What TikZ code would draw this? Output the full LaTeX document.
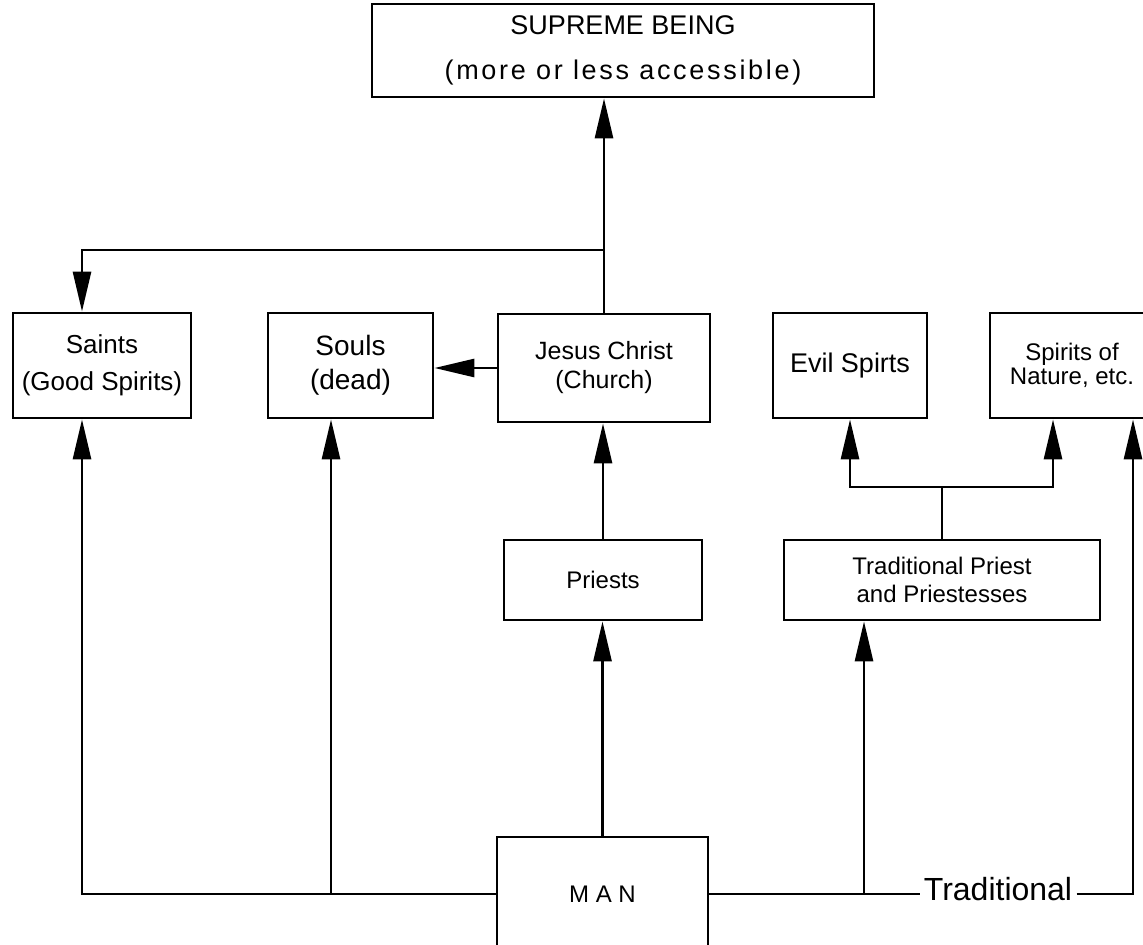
\documentclass[tikz,border=0pt]{standalone}
\usepackage{fontspec}
\setmainfont{Liberation Sans}
\usetikzlibrary{arrows.meta}

\begin{document}
\begin{tikzpicture}[x=0.5pt,y=-0.5pt,
    box/.style={draw,line width=1.4pt,align=center,inner sep=0pt},
    link/.style={line width=1.4pt},
    arr/.style={link,-{Triangle[length=20pt,width=9pt]}}]
        \useasboundingbox (0,0) rectangle (1143,945);

        \node[box,minimum width=251pt,minimum height=46.5pt,font=\fontsize{13.5}{22.5}\selectfont] (supreme) at (623,50.5) {SUPREME BEING\\{\addfontfeature{LetterSpace=10}(more or less accessible)}};
        \node[box,minimum width=89pt,minimum height=52.5pt,font=\fontsize{13}{18.5}\selectfont] (saints) at (102,365.5) {Saints\\(Good Spirits)};
        \node[box,minimum width=82.5pt,minimum height=52.5pt,font=\fontsize{14}{17}\selectfont] (souls) at (350.5,365.5) {Souls\\(dead)};
        \node[box,minimum width=106pt,minimum height=54pt,font=\fontsize{12.5}{14.5}\selectfont] (jesus) at (604,368) {Jesus Christ\\(Church)};
        \node[box,minimum width=77pt,minimum height=52.5pt,font=\fontsize{13.5}{16}\selectfont] (evil) at (850,365.5) {Evil Spirts};
        \node[box,minimum width=82pt,minimum height=52.5pt,font=\fontsize{12}{10}\selectfont] (nature) at (1072,365.5) {Spirits of\\Nature, etc.};
        \node[box,minimum width=99pt,minimum height=40pt,font=\fontsize{12}{14}\selectfont] (priests) at (603,580) {Priests};
        \node[box,minimum width=158pt,minimum height=40pt,font=\fontsize{12}{14}\selectfont] (tradpriest) at (942,580) {Traditional Priest\\and Priestesses};
        \node[box,minimum width=105.5pt,minimum height=57pt,font=\fontsize{12}{14}\selectfont] (man) at (602.5,894) {M A N};
        \node[inner sep=2pt,font=\fontsize{16}{18}\selectfont] (tradlabel) at (998,889) {Traditional};

        \coordinate (fork) at (604,250);
        \coordinate (lane1) at (82,894);
        \coordinate (lane2) at (331,894);
        \coordinate (lane3) at (864,894);
        \coordinate (lane4) at (1133,894);
        \coordinate (split) at (942,487);
        \coordinate (lane5) at (1053,487);

        \draw[arr] (jesus.north) -- (jesus.north |- supreme.south);
        \draw[arr] (fork) -| (lane1 |- saints.north);
        \draw[arr] (jesus.west) -- (jesus.west -| souls.east);
        \draw[arr] (priests.north) -- (priests.north |- jesus.south);
        \draw[arr] (man.north) -- (man.north |- priests.south);
        \draw[arr] (tradpriest.north) |- (lane5) -- (lane5 |- nature.south);
        \draw[arr] (split) -| (evil.south);

        \draw[arr] (man.west) -| (lane1 |- saints.south);
        \draw[arr] (lane2) -- (lane2 |- souls.south);
        \draw[link] (man.east) -- (tradlabel.west |- man.east);
        \draw[arr] (lane3) -- (lane3 |- tradpriest.south);
        \draw[arr] (tradlabel.east |- man.east) -| (lane4 |- nature.south);
\end{tikzpicture}
\end{document}
